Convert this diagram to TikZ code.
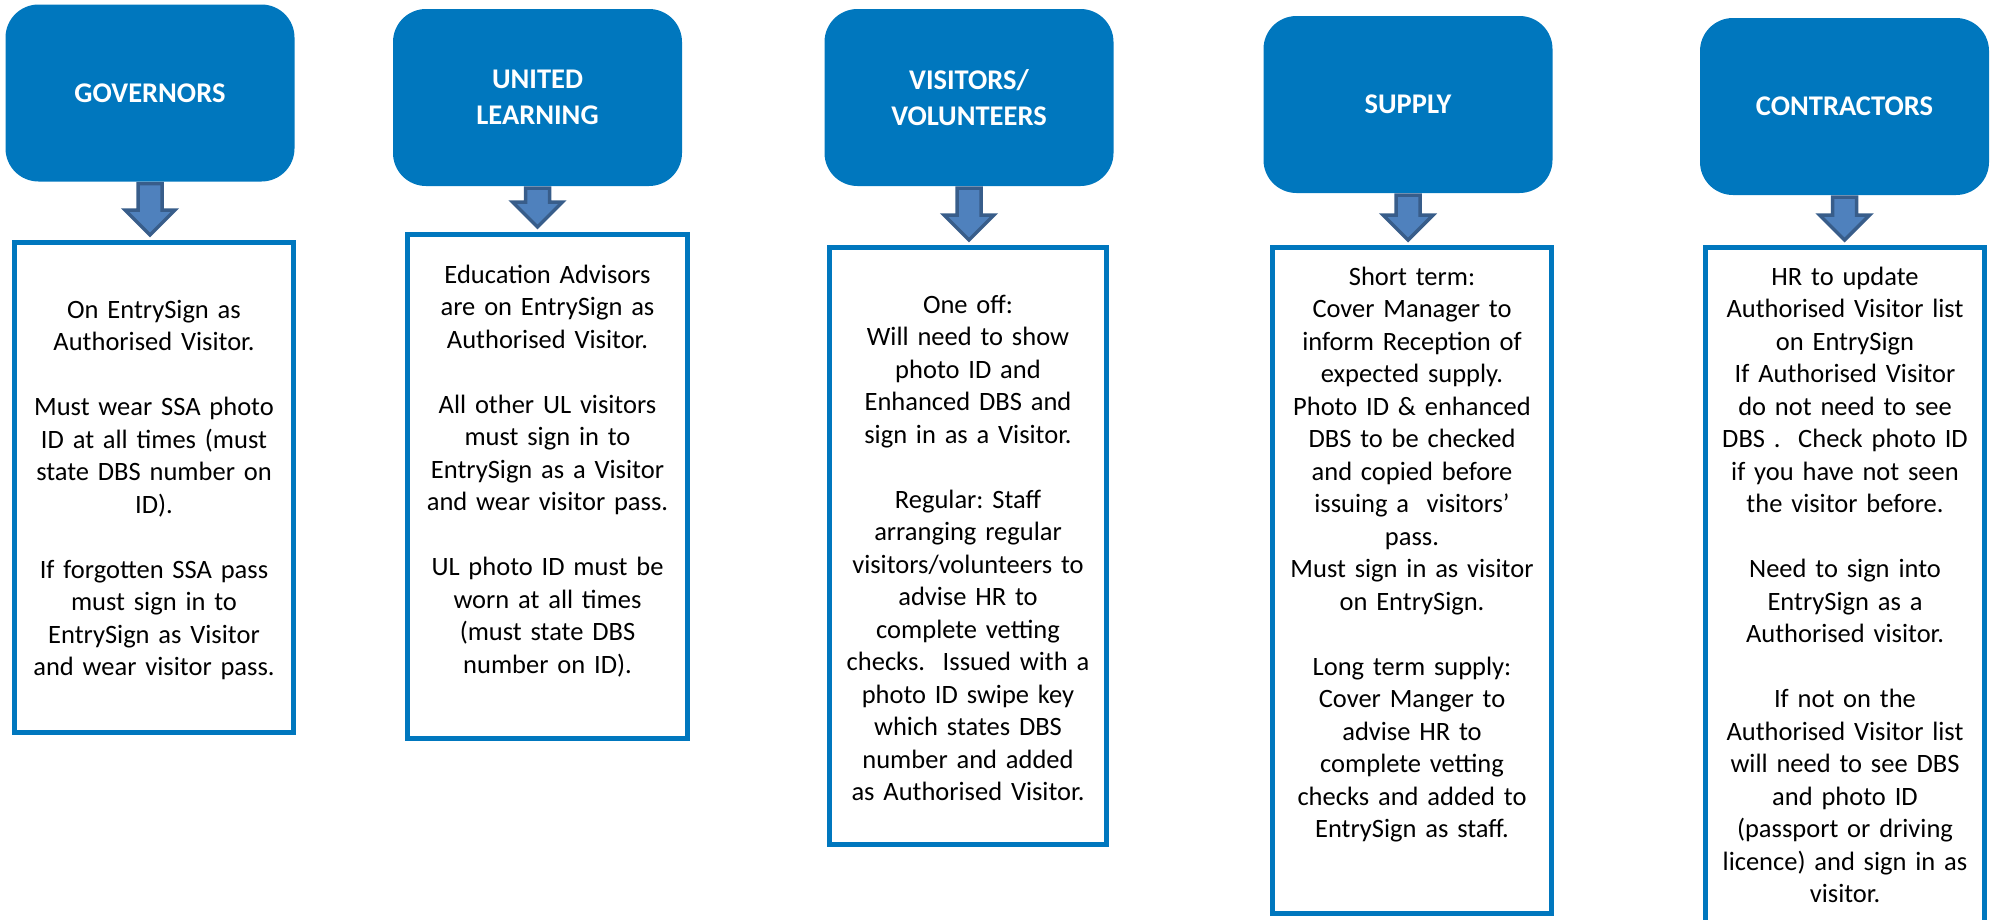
\documentclass[tikz,border=0pt]{standalone}
\usepackage{fontspec}
\setmainfont{Carlito}
\usetikzlibrary{calc}
\frenchspacing

\definecolor{headblue}{RGB}{0,119,190}
\definecolor{arrowfill}{RGB}{79,129,189}
\definecolor{arrowline}{RGB}{56,93,138}

\tikzset{
  headbox/.style={fill=headblue, rounded corners=33pt, minimum width=289pt, minimum height=177pt,
    text=white, align=center, font=\fontsize{28.5pt}{36.7pt}\selectfont\bfseries},
  infobox/.style={draw=headblue, line width=5pt, fill=white, inner sep=0pt, anchor=base,
    align=center, font=\fontsize{26.5pt}{32.5pt}\selectfont},
  blockarrow/.style={fill=arrowfill, draw=arrowline, line width=3.5pt, line join=miter}
}

\begin{document}
\begin{tikzpicture}[x=1pt,y=-1pt]
    \useasboundingbox (0,0) rectangle (1991,919);
    \clip (0,0) rectangle (1991,919);
    % Draw the headers
    \node[headbox] (gov) at (150,93) {GOVERNORS};
    \node[headbox] (ul) at (537.5,97.5) {UNITED\\LEARNING};
    \node[headbox] (vis) at (969,97.5) {VISITORS/\\VOLUNTEERS};
    \node[headbox] (sup) at (1408,104.5) {SUPPLY};
    \node[headbox] (con) at (1844.5,106.5) {CONTRACTORS};
    % Add the text boxes
    \node[infobox, text width=279pt, text height=75.5pt, text depth=414.5pt] (govtxt) at (154,318)
      {On EntrySign as\\Authorised Visitor.\\[32.5pt]Must wear SSA photo\\ID at all times (must\\state DBS number on\\ID).\\[32.5pt]If forgotten SSA pass\\must sign in to\\EntrySign as Visitor\\and wear visitor pass.};
    \node[infobox, text width=280pt, text height=48.5pt, text depth=455.5pt] (ultxt) at (547.5,283)
      {Education Advisors\\are on EntrySign as\\Authorised Visitor.\\[32.5pt]All other UL visitors\\must sign in to\\EntrySign as a Visitor\\and wear visitor pass.\\[32.5pt]UL photo ID must be\\worn at all times\\(must state DBS\\number on ID).};
    \node[infobox, text width=277pt, text height=65.5pt, text depth=531.5pt] (vistxt) at (968,313)
      {One off:\\Will need to show\\photo ID and\\Enhanced DBS and\\sign in as a Visitor.\\[32.5pt]Regular: Staff\\arranging regular\\visitors/volunteers to\\advise HR to\\complete vetting\\checks.~ Issued with a\\photo ID swipe key\\which states DBS\\number and added\\as Authorised Visitor.};
    \node[infobox, text width=279pt, text height=37.5pt, text depth=628.5pt] (suptxt) at (1412,285)
      {Short term:\\Cover Manager to\\inform Reception of\\expected supply.\\Photo ID \& enhanced\\DBS to be checked\\and copied before\\issuing a~ visitors’\\pass.\\Must sign in as visitor\\on EntrySign.\\[32.5pt]Long term supply:\\Cover Manger to\\advise HR to\\complete vetting\\checks and added to\\EntrySign as staff.};
    \node[infobox, text width=279pt, text height=37.5pt, text depth=665pt] (contxt) at (1845,285)
      {HR to update\\Authorised Visitor list\\on EntrySign\\If Authorised Visitor\\do not need to see\\DBS .~ Check photo ID\\if you have not seen\\the visitor before.\\[32.5pt]Need to sign into\\EntrySign as a\\Authorised visitor.\\[32.5pt]If not on the\\Authorised Visitor list\\will need to see DBS\\and photo ID\\(passport or driving\\licence) and sign in as\\visitor.};
    % Block arrows from header to box
    \foreach \a/\b in {gov/govtxt, ul/ultxt, vis/vistxt, sup/suptxt, con/contxt} {
      \coordinate (top) at ($(\a.south)+(0,2)$);
      \coordinate (tip) at ($(\a.south |- \b.north)+(0,-5)$);
      \draw[blockarrow] ($(top)+(-12,0)$) -- ($(tip)+(-12,-25)$) -- ($(tip)+(-25,-25)$) -- (tip)
        -- ($(tip)+(25,-25)$) -- ($(tip)+(12,-25)$) -- ($(top)+(12,0)$) -- cycle;
    }
\end{tikzpicture}
\end{document}
